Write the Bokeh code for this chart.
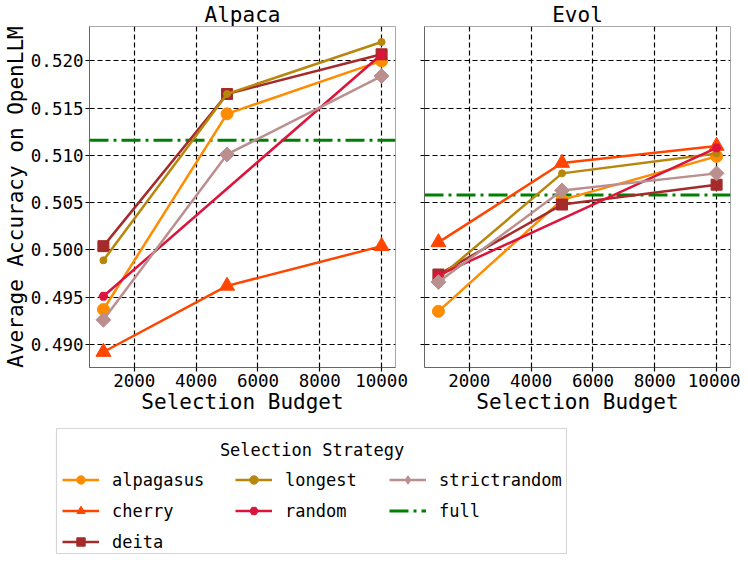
import numpy as np
from bokeh.plotting import figure
from bokeh.layouts import column, row
from bokeh.models import (Range1d, FixedTicker, PrintfTickFormatter, CustomJSTickFormatter,
                          Legend, LegendItem, Label, Span)
from bokeh.embed import file_html
from bokeh.resources import INLINE

# ---------------- data ----------------
budgets = [1000, 5000, 10000]
random_budgets = [1000, 10000]

alpaca_alpagasus = [0.4937, 0.5144, 0.5200]
alpaca_cherry = [0.4892, 0.4962, 0.5004]
alpaca_deita = [0.5004, 0.5165, 0.5207]
alpaca_longest = [0.4989, 0.5165, 0.5220]
alpaca_random = [0.4951, 0.5207]
alpaca_strictrandom = [0.4926, 0.5101, 0.5184]
alpaca_full = 0.5116

evol_alpagasus = [0.4935, 0.5053, 0.5099]
evol_cherry = [0.5008, 0.5092, 0.5110]
evol_deita = [0.4974, 0.5048, 0.5069]
evol_longest = [0.4970, 0.5081, 0.5102]
evol_random = [0.4973, 0.5108]
evol_strictrandom = [0.4966, 0.5063, 0.5081]
evol_full = 0.5058

panel_titles = ["Alpaca", "Evol"]
strategies = ["alpagasus", "cherry", "deita", "longest", "random", "strictrandom"]
y_ticks = [0.490, 0.495, 0.500, 0.505, 0.510, 0.515, 0.520]
x_ticks = [2000, 4000, 6000, 8000, 10000]

# ---------------- styles ----------------
FONT = "DejaVu Sans Mono"
styles = {
    "alpagasus": dict(color="#ff8c00", marker="circle", size=12, angle=0.0,
                      lmarker="circle", lsize=11),
    "cherry": dict(color="#ff4500", marker="triangle", size=15, angle=0.0,
                   lmarker="triangle", lsize=14),
    "deita": dict(color="#a52a2a", marker="square", size=11, angle=0.0,
                  lmarker="square", lsize=10),
    "longest": dict(color="#b8860b", marker="circle", size=7, angle=0.0,
                    lmarker="circle", lsize=7),
    "random": dict(color="#dc143c", marker="hex", size=9, angle=0.0,
                   lmarker="hex", lsize=8),
    "strictrandom": dict(color="#bc8f8f", marker="square", size=10.5, angle=np.pi / 4,
                         lmarker="diamond", lsize=21),
}
FULL_COLOR = "#008000"
FULL_DASH = "19 5 3 5"
LW = 2.5

panels = {
    "Alpaca": dict(alpagasus=(budgets, alpaca_alpagasus), cherry=(budgets, alpaca_cherry),
                   deita=(budgets, alpaca_deita), longest=(budgets, alpaca_longest),
                   random=(random_budgets, alpaca_random),
                   strictrandom=(budgets, alpaca_strictrandom), full=alpaca_full),
    "Evol": dict(alpagasus=(budgets, evol_alpagasus), cherry=(budgets, evol_cherry),
                 deita=(budgets, evol_deita), longest=(budgets, evol_longest),
                 random=(random_budgets, evol_random),
                 strictrandom=(budgets, evol_strictrandom), full=evol_full),
}

# ranges with 5% padding like matplotlib
all_y = (alpaca_alpagasus + alpaca_cherry + alpaca_deita + alpaca_longest + alpaca_random +
         alpaca_strictrandom + [alpaca_full] + evol_alpagasus + evol_cherry + evol_deita +
         evol_longest + evol_random + evol_strictrandom + [evol_full])
ymin, ymax = min(all_y), max(all_y)
ypad = 0.05 * (ymax - ymin)
xmin, xmax = min(budgets), max(budgets)
xpad = 0.05 * (xmax - xmin)
y_range = Range1d(ymin - ypad, ymax + ypad)


def make_panel(name, first):
    p = figure(frame_width=306, frame_height=341, output_backend="svg", toolbar_location=None,
               x_range=Range1d(xmin - xpad, xmax + xpad), y_range=y_range,
               min_border_top=0, min_border_bottom=50,
               min_border_left=0 if first else 15, min_border_right=14 if first else 10)
    p.title.text = name
    p.title.align = "center"
    p.title.text_font = FONT
    p.title.text_font_size = "21px"
    p.title.text_font_style = "normal"
    p.title.text_color = "black"
    p.title.standoff = 0
    p.background_fill_color = "white"
    p.border_fill_color = "white"
    p.outline_line_color = "#aaaaaa"
    p.outline_line_width = 1

    for ax in (p.xaxis[0], p.yaxis[0]):
        ax.axis_line_color = "#666666"
        ax.axis_line_width = 1
        ax.major_tick_line_color = "black"
        ax.major_tick_line_width = 1.2
        ax.major_tick_out = 4
        ax.major_tick_in = 0
        ax.minor_tick_line_color = None
        ax.major_label_text_font = FONT
        ax.major_label_text_font_size = "17.5px"
        ax.major_label_text_color = "black"
        ax.axis_label_text_font = FONT
        ax.axis_label_text_font_size = "21px"
        ax.axis_label_text_font_style = "normal"
        ax.axis_label_text_color = "black"
        ax.major_label_standoff = 2
        ax.axis_label_standoff = 0

    p.xaxis.ticker = FixedTicker(ticks=x_ticks)
    p.xaxis.formatter = PrintfTickFormatter(format="%d")
    p.xaxis.axis_label = "Selection Budget"
    p.yaxis.ticker = FixedTicker(ticks=y_ticks)
    if first:
        p.yaxis.formatter = PrintfTickFormatter(format="%.3f")
        p.yaxis.axis_label = "Average Accuracy on OpenLLM"
    else:
        p.yaxis.formatter = CustomJSTickFormatter(code="return ''")
        p.yaxis.major_label_standoff = 0

    for g in (p.xgrid[0], p.ygrid[0]):
        g.grid_line_color = "black"
        g.grid_line_dash = "5 3"
        g.grid_line_width = 1.2
        g.grid_line_alpha = 1.0
    p.xgrid.ticker = FixedTicker(ticks=x_ticks)
    p.ygrid.ticker = FixedTicker(ticks=y_ticks)

    d = panels[name]
    full = Span(location=d["full"], dimension="width", line_color=FULL_COLOR,
                line_width=3, line_dash=FULL_DASH, level="underlay")
    p.add_layout(full)

    for s in strategies:
        xs, ys = d[s]
        st = styles[s]
        p.line(xs, ys, line_color=st["color"], line_width=LW)
        p.scatter(xs, ys, marker=st["marker"], size=st["size"], angle=st["angle"],
                  fill_color=st["color"], line_color=st["color"])
    return p


p1 = make_panel("Alpaca", True)
p2 = make_panel("Evol", False)

# ---------------- legend figure ----------------
lf = figure(frame_width=511, frame_height=126, output_backend="svg", toolbar_location=None,
            x_axis_location=None, y_axis_location=None, x_range=Range1d(0, 1),
            y_range=Range1d(0, 1), min_border_left=56, min_border_right=0,
            min_border_top=11, min_border_bottom=0)
lf.grid.visible = False
lf.outline_line_color = "#d6d6d6"
lf.outline_line_width = 1.2
lf.background_fill_color = "white"
lf.border_fill_color = "white"

# legend-only renderers (NaN position, never visible in the frame)
nan = [float("nan")]
items = {}
for s in strategies:
    st = styles[s]
    r1 = lf.line(nan, nan, line_color=st["color"], line_width=LW)
    r2 = lf.scatter(nan, nan, marker=st["lmarker"], size=st["lsize"],
                    fill_color=st["color"], line_color=st["color"])
    items[s] = LegendItem(label=s, renderers=[r1, r2])
rf = lf.line(nan, nan, line_color=FULL_COLOR, line_width=3, line_dash=FULL_DASH)
items["full"] = LegendItem(label="full", renderers=[rf])

columns_spec = [(["alpagasus", "cherry", "deita"], 6, 2),
                (["longest", "random"], 179, 33),
                (["strictrandom", "full"], 333, 33)]
for names, xoff, yoff in columns_spec:
    lg = Legend(items=[items[n] for n in names], location=(xoff, yoff),
                orientation="vertical", padding=0, margin=0, spacing=10,
                glyph_width=37, glyph_height=21, label_standoff=13,
                label_text_font=FONT, label_text_font_size="17px",
                label_text_color="black",
                border_line_color=None, background_fill_alpha=0.0)
    lf.add_layout(lg)

lf.add_layout(Label(x=255.5, y=105, x_units="screen", y_units="screen",
                    text="Selection Strategy", text_align="center", text_baseline="middle",
                    text_font=FONT, text_font_size="17px", text_color="black"))

layout = column(row(p1, p2), lf)
open("out.html", "w").write(file_html(layout, INLINE))
